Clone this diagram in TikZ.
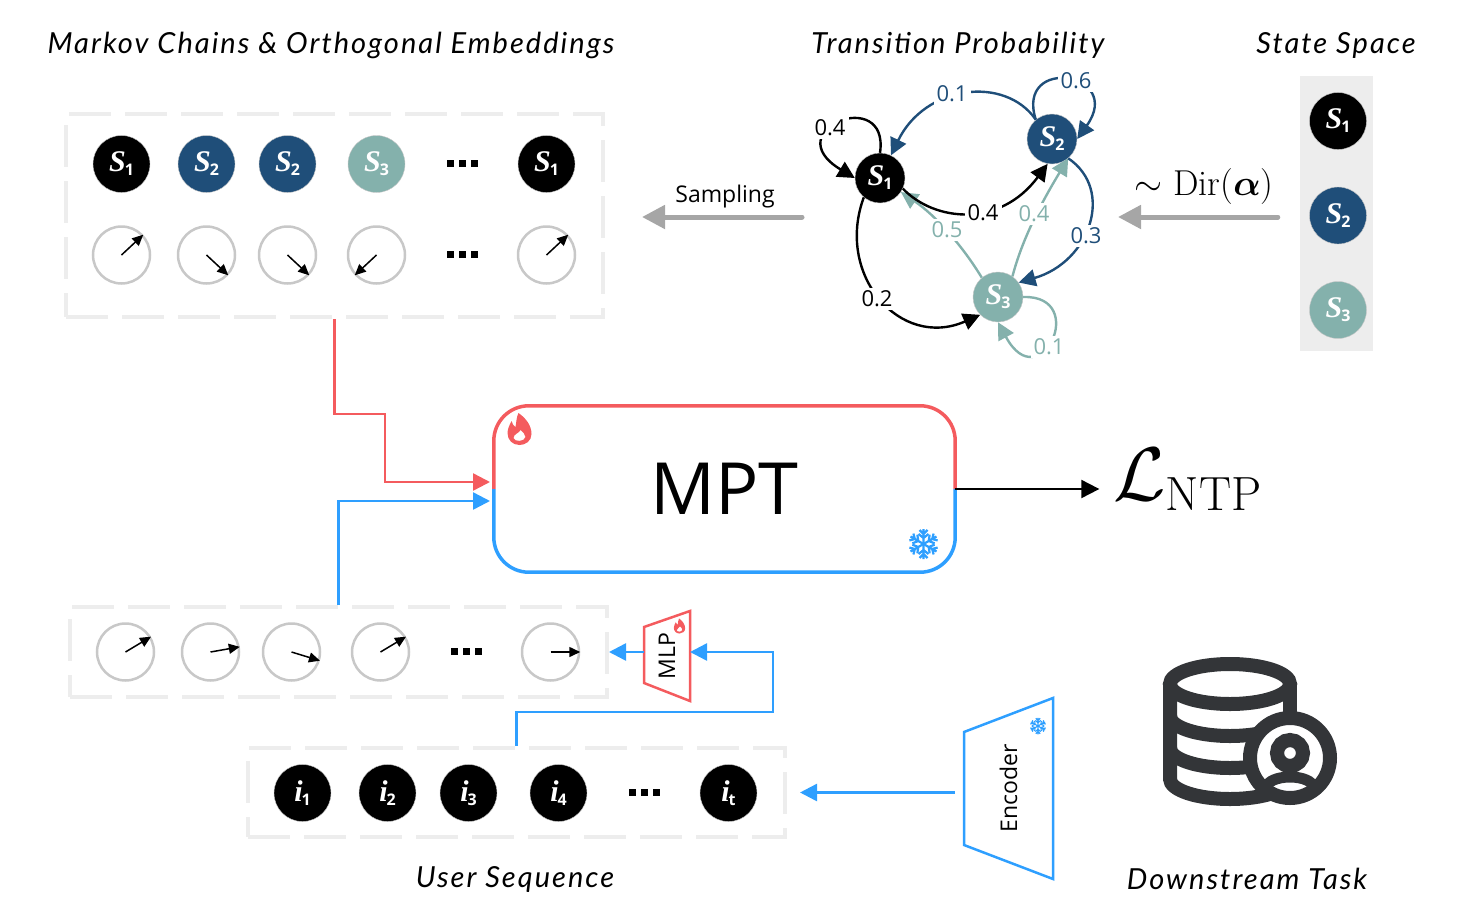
\RequirePackage{fix-cm}
\documentclass[tikz,border=0pt]{standalone}
\usepackage[no-math]{fontspec}
\usepackage{bm}
\usetikzlibrary{arrows.meta}
\newfontfamily\labelfont{Open Sans}
\newfontfamily\statefont{Liberation Serif}
\newfontfamily\titlefont[LetterSpace=7]{Lato}
\definecolor{stateblue}{HTML}{1F4E79}
\definecolor{stateteal}{HTML}{84B1AC}
\definecolor{hotred}{HTML}{F45B5E}
\definecolor{coldblue}{HTML}{2E9FFF}
\definecolor{boxgray}{HTML}{EDEDED}
\definecolor{ringgray}{HTML}{C8C8C8}
\definecolor{pathgray}{HTML}{A6A6A6}
\definecolor{iconblack}{HTML}{333538}
\newcommand{\statelab}[2]{{\statefont\fontsize{30}{30}\selectfont\bfseries\itshape #1}\kern-1pt\raisebox{-4pt}{\labelfont\fontsize{16}{16}\selectfont\bfseries #2}}
\newcommand{\pxfont}[1]{\labelfont\fontsize{#1}{#1}\selectfont}
\tikzset{
  statenode/.style={circle,fill=#1,draw=ringgray,line width=0.4pt,minimum size=57pt,inner sep=0pt,text=white},
  graphnode/.style={statenode=#1,minimum size=50pt},
  ringnode/.style={circle,draw=ringgray,line width=2.5pt,fill=white,minimum size=57pt,inner sep=0pt},
  dashbox/.style={draw=boxgray,line width=4pt,dash pattern=on 42pt off 14pt,inner sep=0pt},
  vecarrow/.style={-{Triangle[length=11pt,width=10pt]},line width=1.5pt},
  edge/.style={-{Triangle[length=17pt,width=17pt]},line width=2.4pt,draw=#1},
  edgelab/.style={font=\pxfont{22},text=#1,fill=white,inner sep=3pt},
  coldarrow/.style={-{Triangle[length=17pt,width=17pt]},line width=2.5pt,draw=coldblue},
  hotarrow/.style={-{Triangle[length=17pt,width=17pt]},line width=2.5pt,draw=hotred},
  grayarrow/.style={-{Triangle[length=23pt,width=23pt]},line width=5pt,draw=pathgray,line cap=round},
  titlelab/.style={font=\titlefont\fontsize{29}{29}\selectfont\itshape},
  flame/.pic={
    \fill[hotred,even odd rule] (-1,-16) .. controls (6,-11) and (12,-4) .. (12,5) .. controls (12,12) and (6,16) .. (0,16) .. controls (-7,16) and (-12,11) .. (-12,4) .. controls (-12,0) and (-10,-4) .. (-8,-8) .. controls (-7,-5) and (-6,-3) .. (-4,-2) .. controls (-3,-8) and (-3,-12) .. (-1,-16) -- cycle
      (1,1) .. controls (0,4) and (-6,5) .. (-6,9) .. controls (-5,13) and (5,13) .. (6,8) .. controls (6,5) and (3,3) .. (1,1) -- cycle;
  },
  flake/.pic={
    \foreach \a in {30,90,...,330} {
      \draw[coldblue,rotate=\a] (0,0) -- (15,0) (6,0) -- (10,-5) (6,0) -- (10,5) (10,0) -- (14,-4) (10,0) -- (14,4);
    }
  },
  threedots/.pic={
    \foreach \d in {-12,0,12} {\fill (\d-3.5,-3.5) rectangle (\d+3.5,3.5);}
  }
}
\begin{document}
\begin{tikzpicture}[x=1pt,y=-1pt]
\useasboundingbox (0,0) rectangle (1478,910);

\node[titlelab] (title1) at (331,45) {Markov Chains \& Orthogonal Embeddings};
\node[titlelab] (title2) at (958,45) {Transition Probability};
\node[titlelab] (title3) at (1336,45) {State Space};
\node[titlelab] (title4) at (515,879) {User Sequence};
\node[titlelab] (title5) at (1247,879) {Downstream Task};

\node[fill=boxgray,minimum width=73pt,minimum height=275pt,inner sep=0pt] (space) at (1336.5,213.5) {};
\foreach \nm/\ypos/\col/\num in {sp1/121/black/1,sp2/215.5/stateblue/2,sp3/310/stateteal/3}
  \node[statenode=\col] (\nm) at (1338,\ypos) {\statelab{S}{\num}};

\node[dashbox,minimum width=537pt,minimum height=203pt] (chainbox) at (334.5,215.5) {};
\foreach \nm/\xpos/\col/\num in {a1/121.5/black/1,a2/206.5/stateblue/2,a3/287.5/stateblue/2,a4/376.5/stateteal/3,a5/546.5/black/1}
  \node[statenode=\col] (\nm) at (\xpos,164) {\statelab{S}{\num}};
\foreach \nm/\xpos/\ang in {v1/121.5/43,v2/206.5/-43,v3/287.5/-43,v4/376.5/-137,v5/546.5/43} {
  \node[ringnode] (\nm) at (\xpos,255) {};
  \draw[vecarrow] (\nm.center) -- (\nm.\ang);
}
\pic at (462.5,163.5) {threedots};
\pic at (462.5,254.5) {threedots};

\node[dashbox,minimum width=537pt,minimum height=90pt] (vecbox) at (338.5,652) {};
\foreach \nm/\xpos/\ang in {w1/125.5/31,w2/210.5/10,w3/291.5/-17,w4/380.5/31,w5/550.5/0} {
  \node[ringnode] (\nm) at (\xpos,652) {};
  \draw[vecarrow] (\nm.center) -- (\nm.\ang);
}
\pic at (466.5,651.5) {threedots};

\node[dashbox,minimum width=537pt,minimum height=89pt] (seqbox) at (516.5,792.5) {};
\foreach \nm/\xpos/\num in {i1/302.5/1,i2/387.5/2,i3/468.5/3,i4/558.5/4,it/728.5/t}
  \node[statenode=black] (\nm) at (\xpos,793) {\statelab{i}{\num}};
\pic at (644.5,792) {threedots};

% graph
\node[graphnode=black] (s1) at (880,178) {\statelab{S}{1}};
\node[graphnode=stateblue] (s2) at (1052,139) {\statelab{S}{2}};
\node[graphnode=stateteal] (s3) at (998,297) {\statelab{S}{3}};

\draw[edge=stateteal] (s3.130) .. controls (962,245) and (935,215) .. (s1);
\draw[edge=stateteal] (s3.55) .. controls (1022,240) and (1040,205) .. (s2.-50);
\draw[edge=stateteal] (s3.0) .. controls (1090,295) and (1040,400) .. (s3.-90);
\draw[edge=black] (s1.north) .. controls (890,85) and (775,130) .. (s1.west);
\draw[edge=black] (s1.-25) .. controls (935,222) and (1000,228) .. (s2.-100);
\draw[edge=black] (s1.-130) .. controls (835,275) and (900,350) .. (s3.-135);
\draw[edge=stateblue] (s2.130) .. controls (1005,75) and (925,85) .. (s1);
\draw[edge=stateblue] (s2.130) .. controls (1015,55) and (1125,72) .. (s2.east);
\draw[edge=stateblue] (s2.-50) .. controls (1115,190) and (1090,262) .. (s3.35);

\node[edgelab=black] (p11) at (830,128) {0.4};
\node[edgelab=black] (p12) at (983,213) {0.4};
\node[edgelab=black] (p13) at (877,299) {0.2};
\node[edgelab=stateblue] (p21) at (952,94) {0.1};
\node[edgelab=stateblue] (p22) at (1076,81) {0.6};
\node[edgelab=stateblue] (p23) at (1086,236) {0.3};
\node[edgelab=stateteal] (p31) at (947,230) {0.5};
\node[edgelab=stateteal] (p32) at (1034,214) {0.4};
\node[edgelab=stateteal] (p33) at (1049,347) {0.1};

\node[font=\pxfont{23}] (samplab) at (725,197) {Sampling};
\coordinate (sampout) at (802,217);
\coordinate (sampin) at (642,217);
\draw[grayarrow] (sampout) -- (sampin);
\node[font=\fontsize{36}{36}\selectfont] (dirlab) at (1204,187) {$\sim$ Dir($\bm{\alpha}$)};
\coordinate (dirin) at (1118,217);
\draw[grayarrow,shorten <=22pt] (space.west |- dirin) -- (dirin);

% model
\node[minimum width=461pt,minimum height=166pt,inner sep=0pt,font=\pxfont{72}] (mpt) at (724.5,489) {MPT};
\draw[hotred,line width=3.5pt,rounded corners=35pt] (mpt.west) -- (mpt.north west) -- (mpt.north east) -- (mpt.east);
\draw[coldblue,line width=3.5pt,rounded corners=35pt] (mpt.west) -- (mpt.south west) -- (mpt.south east) -- (mpt.east);
\pic at (519.5,429) {flame};
\pic[line width=2.2pt] at (923.5,544) {flake};

\coordinate (hotin) at (490,482);
\coordinate (coldin) at (490,501);
\coordinate (hotbend) at (385,414);
\draw[hotarrow] (chainbox.south) |- (hotbend) |- (hotin);
\draw[coldarrow] (vecbox.north) |- (coldin);

\node[inner sep=0pt] (loss) at (1187.5,480) {{\fontsize{76}{76}\selectfont$\mathcal{L}$}\raisebox{-10pt}{\fontsize{48}{48}\selectfont NTP}};
\draw[-{Triangle[length=18pt,width=18pt]},line width=2pt,shorten >=14pt] (mpt.east) -- (mpt.east -| loss.west);

% mlp and encoder
\node[minimum width=46pt,minimum height=90pt,inner sep=0pt] (mlp) at (667,656) {\rotatebox{90}{\pxfont{23}MLP}};
\draw[hotred,line width=2.5pt] (644,627) -- (690,611) -- (690,701) -- (644,683) -- cycle;
\pic[scale=0.47] at (679.5,626) {flame};
\coordinate (mlpin) at (690,652);
\coordinate (mlpout) at (644,652);
\coordinate (seqbend) at (773,712);
\draw[coldarrow] (mlpout) -- (vecbox.east);
\draw[coldarrow] (seqbox.north) |- (seqbend) |- (mlpin);

\node[minimum width=89pt,minimum height=181pt,inner sep=0pt] (enc) at (1008.5,788.5) {\rotatebox{90}{\pxfont{23}Encoder}};
\draw[coldblue,line width=2.5pt] (964,732) -- (1053,698) -- (1053,879) -- (964,845) -- cycle;
\pic[scale=0.55,line width=1.1pt] at (1038,726) {flake};
\draw[coldarrow,shorten <=9pt,shorten >=13pt] (enc.west |- seqbox.east) -- (seqbox.east);

% database
\begin{scope}[iconblack,line width=14pt]
\draw (1230,684) ellipse [x radius=60,y radius=20];
\draw (1170,684) -- (1170,779) arc [start angle=180,end angle=0,x radius=60,y radius=20];
\draw (1290,684) -- (1290,779);
\draw (1170,716) arc [start angle=180,end angle=0,x radius=60,y radius=20];
\draw (1170,748) arc [start angle=180,end angle=0,x radius=60,y radius=20];
\draw[fill=white] (1290,758) circle [radius=40];
\draw (1290,753) circle [radius=13];
\begin{scope}
\clip (1290,758) circle [radius=40];
\draw[line width=11pt] (1290,787) ellipse [x radius=23,y radius=10];
\end{scope}
\end{scope}
\end{tikzpicture}
\end{document}
